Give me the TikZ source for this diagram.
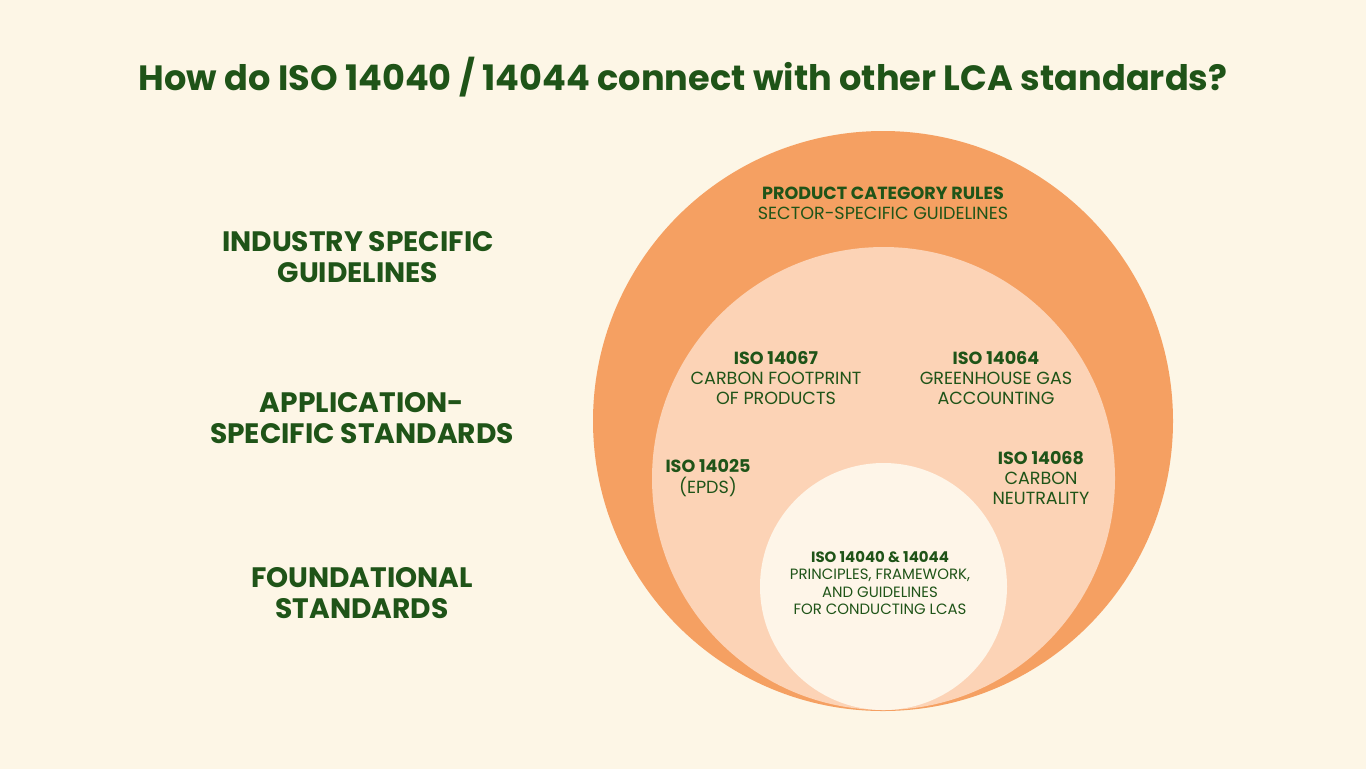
\documentclass[tikz,border=0pt]{standalone}
\usepackage{fontspec}
\setmainfont{Poppins}
\definecolor{bgcream}{HTML}{FDF6E6}
\definecolor{outerorange}{HTML}{F5A062}
\definecolor{midpeach}{HTML}{FCD3B6}
\definecolor{innercream}{HTML}{FEF5E8}
\definecolor{darkgreen}{HTML}{1F5418}

\begin{document}
\begin{tikzpicture}[x=0.02cm,y=-0.02cm,
    every node/.style={text=darkgreen,align=center,inner sep=0pt},
    side/.style={font=\fontsize{16}{18}\selectfont\bfseries},
    lbl/.style={font=\fontsize{10}{11.5}\selectfont},
    small/.style={font=\fontsize{8.5}{10}\selectfont}]
\fill[bgcream] (0,0) rectangle (1366,769);
\useasboundingbox (0,0) rectangle (1366,769);
\fill[outerorange] (883,421) circle (290);
\fill[midpeach] (883.5,478.5) circle (231.5);
\fill[innercream] (883.5,586.5) circle (123.5);

\node[font=\fontsize{20}{24}\selectfont\bfseries] (title) at (683,77) {How do ISO 14040 / 14044 connect with other LCA standards?};

\node[side] (ind) at (358,257) {INDUSTRY SPECIFIC\\GUIDELINES};
\node[side] (app) at (362,418) {APPLICATION-\\SPECIFIC STANDARDS};
\node[side] (fnd) at (362,593) {FOUNDATIONAL\\STANDARDS};

\node[lbl] (pcr) at (883,203) {\textbf{PRODUCT CATEGORY RULES}\\SECTOR-SPECIFIC GUIDELINES};
\node[lbl] (i67) at (776,378) {\textbf{ISO 14067}\\CARBON FOOTPRINT\\OF PRODUCTS};
\node[lbl] (i64) at (996,378) {\textbf{ISO 14064}\\GREENHOUSE GAS\\ACCOUNTING};
\node[lbl] (i25) at (708,478) {\textbf{ISO 14025}\\(EPDS)};
\node[lbl] (i68) at (1041,478) {\textbf{ISO 14068}\\CARBON\\NEUTRALITY};
\node[small] (i40) at (880,583) {\textbf{ISO 14040 \& 14044}\\PRINCIPLES, FRAMEWORK,\\AND GUIDELINES\\FOR CONDUCTING LCAS};
\end{tikzpicture}
\end{document}
